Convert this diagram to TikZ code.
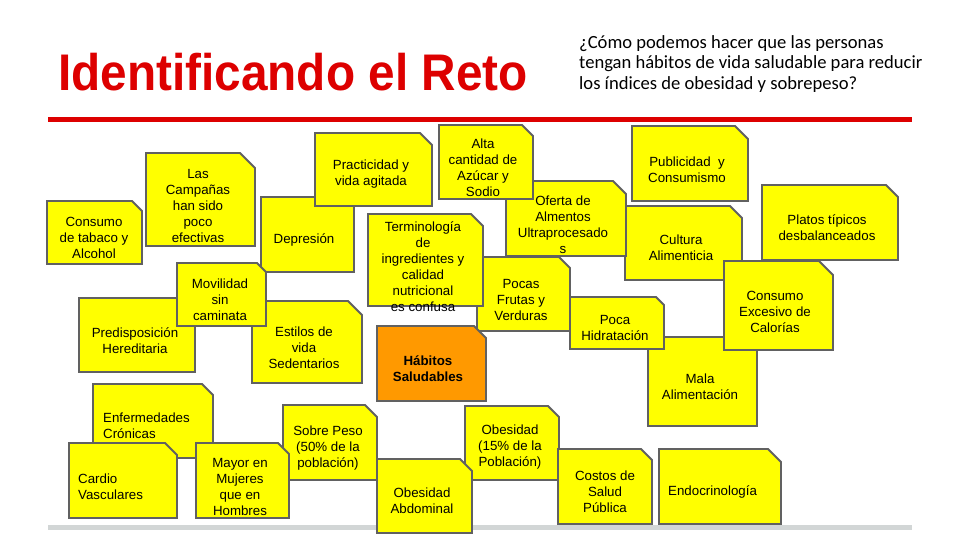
\documentclass[tikz,border=0pt]{standalone}
\usepackage{fontspec}
\setmainfont{Liberation Sans}
\newfontfamily\qfont{Carlito}
\definecolor{titlered}{HTML}{DD0000}
\definecolor{notefill}{HTML}{FFFF00}
\definecolor{noteline}{HTML}{616161}
\definecolor{habfill}{HTML}{FF9900}
\definecolor{footgray}{HTML}{D2D6D6}
\tikzset{
  notebox/.style={draw=noteline, line width=1.8pt, line join=miter},
  notetext/.style={font=\fontsize{13.3}{16}\selectfont, align=center, inner sep=0pt, text=black, yshift=-1.5pt},
  notetextl/.style={notetext, align=left, anchor=west},
  qtext/.style={font=\qfont\fontsize{18.6}{20}\selectfont, inner sep=0pt, anchor=base west, text=black},
  rule/.style={line width=5pt}
}
% #1 fill, #2 left, #3 top, #4 right, #5 bottom, #6 chamfer
\newcommand\stickybox[6][notefill]{%
  \path[notebox, fill=#1] (#2,#3) -- ({#4-#6},#3) -- (#4,{#3+#6}) -- (#4,#5) -- (#2,#5) -- cycle;}
\begin{document}
\begin{tikzpicture}[x=1pt,y=-1pt]
\useasboundingbox (0,0) rectangle (960,540);
\fill[white] (0,0) rectangle (960,540);

% title and question
\node[anchor=base west, inner sep=0pt, text=titlered, font=\fontsize{51.5}{60}\selectfont\bfseries] (title) at (58,91) {\scalebox{0.927}[1]{Identificando el Reto}};
\node[qtext] (q1) at (579,49) {¿Cómo podemos hacer que las personas};
\node[qtext] (q2) at (579,69) {tengan hábitos de vida saludable para reducir};
\node[qtext] (q3) at (579,90) {los índices de obesidad y sobrepeso?};

% rules
\coordinate (redL) at (48,120);
\coordinate (redR) at (912,120);
\draw[rule, titlered] (redL) -- (redR);
\coordinate (grayL) at (48,527);
\coordinate (grayR) at (912,527);
\draw[rule, footgray] (grayL) -- (grayR);

% notes
\stickybox{47}{201}{142}{264}{10}
\node[notetext] (tabaco) at (94,236) {Consumo\\de tabaco y\\Alcohol};

\stickybox{146}{153}{255}{246}{15}
\node[notetext] (campanas) at (198,204) {Las\\Campañas\\han sido\\poco\\efectivas};

\stickybox{261}{197}{354}{272}{8}
\node[notetext] (depresion) at (304,238) {Depresión};

\stickybox{315}{133}{432}{206}{12}
\node[notetext] (practicidad) at (371,173) {Practicidad y\\vida agitada};

\stickybox{625}{206}{742}{280}{12}
\node[notetext] (cultura) at (681,246) {Cultura\\Alimenticia};

\stickybox{506}{181}{626}{256}{13}
\node[notetext] (oferta) at (563,223) {Oferta de\\Almentos\\Ultraprocesado\\s};

\stickybox{439}{125}{533}{199}{11}
\node[notetext] (alta) at (483,166) {Alta\\cantidad de\\Azúcar y\\Sodio};

\stickybox{632}{126}{748}{201}{13}
\node[notetext] (publicidad) at (687,168) {Publicidad~~y\\Consumismo};

\stickybox{762}{185}{898}{260}{12}
\node[notetext] (platos) at (827,226) {Platos típicos\\desbalanceados};

\stickybox{648}{337}{757}{426}{12}
\node[notetext] (mala) at (700,385) {Mala\\Alimentación};

\stickybox{724}{261}{833}{350}{14}
\node[notetext] (excesivo) at (775,310) {Consumo\\Excesivo de\\Calorías};

\stickybox{570}{297}{664}{349}{8}
\node[notetext] (hidratacion) at (615,326) {Poca\\Hidratación};

\stickybox{477}{257}{570}{331}{11}
\node[notetext] (frutas) at (521,298) {Pocas\\Frutas y\\Verduras};

\stickybox{368}{214}{483}{306}{12}
\node[notetext] (terminologia) at (423,265) {Terminología\\de\\ingredientes y\\calidad\\nutricional\\es confusa};

\stickybox[habfill]{377}{326}{486}{401}{12}
\node[notetext, font=\fontsize{13.3}{16}\selectfont\bfseries] (habitos) at (428,367) {Hábitos\\Saludables};

\stickybox{79}{298}{195}{372}{12}
\node[notetext] (predisposicion) at (135,339) {Predisposición\\Hereditaria};

\stickybox{252}{301}{362}{383}{14}
\node[notetext] (estilos) at (304,346) {Estilos de\\vida\\Sedentarios};

\stickybox{177}{263}{266}{326}{9}
\node[notetext] (movilidad) at (220,298) {Movilidad\\sin\\caminata};

\stickybox{93}{384}{213}{458}{11}
\node[notetextl] (enfermedades) at (103,424) {Enfermedades\\Crónicas};

\stickybox{69}{443}{177}{518}{12}
\node[notetextl] (cardio) at (78,485) {Cardio\\Vasculares};

\stickybox{283}{405}{377}{480}{12}
\node[notetext] (sobrepeso) at (328,447) {Sobre Peso\\(50\% de la\\población)};

\stickybox{196}{443}{289}{518}{11}
\node[notetext] (mayor) at (240,485) {Mayor en\\Mujeres\\que en\\Hombres};

\stickybox{465}{406}{559}{480}{11}
\node[notetext] (obesidad) at (510,446) {Obesidad\\(15\% de la\\Población)};

\stickybox{377}{459}{472}{533}{12}
\node[notetext] (abdominal) at (422,499) {Obesidad\\Abdominal};

\stickybox{558}{449}{652}{524}{11}
\node[notetext] (costos) at (605,490) {Costos de\\Salud\\Pública};

\stickybox{659}{449}{781}{524}{13}
\node[notetextl] (endocrino) at (668,490) {Endocrinología};
\end{tikzpicture}
\end{document}
